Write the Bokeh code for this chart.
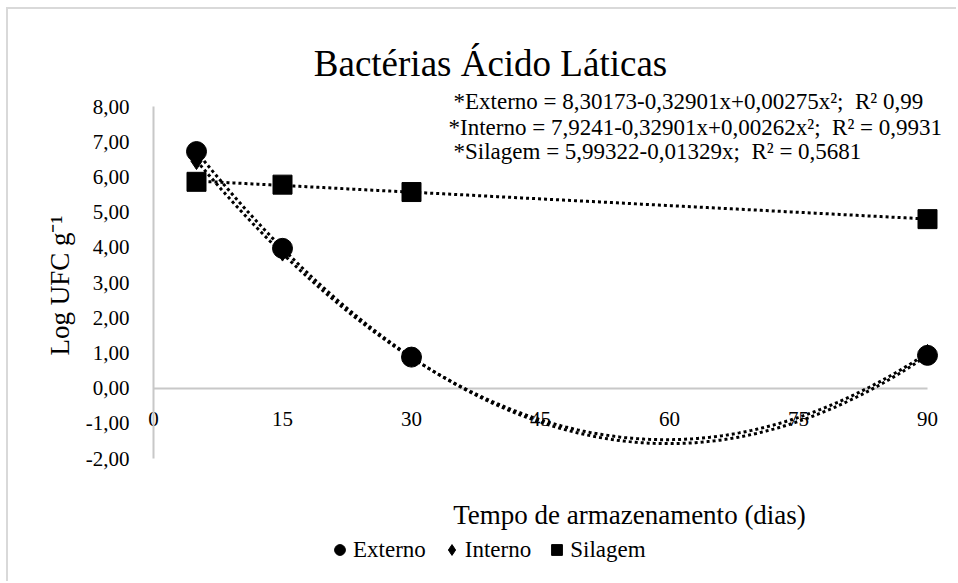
import math
import numpy as np
from bokeh.plotting import figure
from bokeh.models import Range1d, FixedTicker, Label, Legend, LegendItem
from bokeh.embed import file_html
from bokeh.resources import INLINE

# ---------------- data ----------------
days = [5, 15, 30, 90]
externo = [6.72, 3.97, 0.88, 0.93]
interno = [6.45, 3.85, 0.85, 1.00]
silagem = [5.86, 5.78, 5.57, 4.80]

x_ticks = [0, 15, 30, 45, 60, 75, 90]
y_ticks = [-2, -1, 0, 1, 2, 3, 4, 5, 6, 7, 8]
y_tick_labels = ["-2,00", "-1,00", "0,00", "1,00", "2,00", "3,00",
                 "4,00", "5,00", "6,00", "7,00", "8,00"]

title_text = "Bactérias Ácido Láticas"
x_title = "Tempo de armazenamento (dias)"
y_title = "Log UFC g⁻¹"
series_names = ["Externo", "Interno", "Silagem"]
NB = "\u00a0"
equations = [
    "*Externo = 8,30173-0,32901x+0,00275x²;" + NB + " R² 0,99",
    "*Interno = 7,9241-0,32901x+0,00262x²;" + NB + " R² = 0,9931",
    "*Silagem = 5,99322-0,01329x;" + NB + " R² = 0,5681",
]

FONT = "Liberation Serif"
INK = "#000000"
AXIS_GRAY = "#c8c8c8"

# ---------------- layout (window px) ----------------
OX, OY = 8, 9                     # canvas origin inside the window
W, H = 958 - OX, 583 - OY
X0_PX, X90_PX = 153, 927          # x = 0 and x = 90
Y8_PX, YM2_PX = 106, 458          # y = 8 and y = -2
xs_per_px = 90 / (X90_PX - X0_PX)
ys_per_px = 10 / (YM2_PX - Y8_PX)
x_start = -(X0_PX - OX) * xs_per_px
x_end = 90 + (OX + W - X90_PX) * xs_per_px
y_end = 8 + (Y8_PX - OY) * ys_per_px
y_start = -2 - (OY + H - YM2_PX) * ys_per_px

p = figure(width=W, height=H, output_backend="svg", toolbar_location=None,
           x_range=Range1d(x_start, x_end), y_range=Range1d(y_start, y_end),
           min_border=0, margin=(7, 0, 0, 6))
p.styles = {"border-top": "2px solid #d9d9d9", "border-left": "2px solid #d9d9d9"}
p.outline_line_color = None
p.grid.visible = False
p.background_fill_color = "white"
p.border_fill_color = "white"

# axes (drawn at fixed data positions, so the frame fills the canvas)
p.xaxis.fixed_location = 0
p.xaxis.bounds = (0, 90)
p.xaxis.ticker = FixedTicker(ticks=x_ticks)
p.xaxis.axis_line_color = AXIS_GRAY
p.xaxis.axis_line_width = 2
p.xaxis.major_tick_line_color = None
p.xaxis.minor_tick_line_color = None
p.xaxis.major_label_standoff = 18
p.xaxis.major_label_text_font = FONT
p.xaxis.major_label_text_font_size = "21px"
p.xaxis.major_label_text_color = INK
p.xaxis.level = "underlay"

p.yaxis.fixed_location = 0
p.yaxis.bounds = (-2, 8)
p.yaxis.ticker = FixedTicker(ticks=y_ticks)
p.yaxis.major_label_overrides = {t: l for t, l in zip(y_ticks, y_tick_labels)}
p.yaxis.axis_line_color = AXIS_GRAY
p.yaxis.axis_line_width = 2
p.yaxis.major_tick_line_color = None
p.yaxis.minor_tick_line_color = None
p.yaxis.major_label_standoff = 18
p.yaxis.major_label_text_font = FONT
p.yaxis.major_label_text_font_size = "21px"
p.yaxis.major_label_text_color = INK

# trendlines (fitted from the data)
xs = np.linspace(min(days), max(days), 300)
fit_ext = np.polyval(np.polyfit(days, externo, 2), xs)
fit_int = np.polyval(np.polyfit(days, interno, 2), xs)
fit_sil = np.polyval(np.polyfit(days, silagem, 1), xs)
for fy in (fit_sil, fit_int, fit_ext):
    p.line(xs, fy, line_color=INK, line_width=3, line_dash="3 3")

# markers
r_sil = p.scatter(days, silagem, marker="square", size=19, fill_color=INK, line_color=INK)
r_int = p.scatter(days, interno, marker="diamond", size=17, fill_color=INK, line_color=INK)
r_ext = p.scatter(days, externo, marker="circle", size=20, fill_color=INK, line_color=INK)

def scr(x_win, y_win):
    # window px -> frame-relative screen units (frame fills the canvas)
    return x_win - OX, (OY + H) - y_win

# legend
lx, ly = scr(326, 563)
legend = Legend(items=[LegendItem(label=series_names[0], renderers=[r_ext]),
                       LegendItem(label=series_names[1], renderers=[r_int]),
                       LegendItem(label=series_names[2], renderers=[r_sil])],
                orientation="horizontal", location=(lx, ly),
                glyph_width=27, glyph_height=27, label_standoff=0, spacing=12,
                padding=0, margin=0, border_line_color=None,
                background_fill_alpha=0,
                label_text_font=FONT, label_text_font_size="23px",
                label_text_color=INK)
p.add_layout(legend, "center")

def add_text(text, xw, yw, size, align="left", baseline="alphabetic", angle=0.0):
    sx, sy = scr(xw, yw)
    p.add_layout(Label(x=sx, y=sy, x_units="screen", y_units="screen", text=text,
                       angle=angle, text_font=FONT, text_font_size=size,
                       text_color=INK, text_align=align, text_baseline=baseline))

add_text(title_text, 490, 63, "37px", align="center")
for eq, xw, yw in zip(equations, [453, 448, 453], [101, 127, 151]):
    add_text(eq, xw, yw, "23px")
add_text(x_title, 629, 514, "27px", align="center")
add_text(y_title, 59, 285, "27px", align="center", baseline="middle", angle=math.pi / 2)

open("out.html", "w").write(file_html(p, INLINE))
